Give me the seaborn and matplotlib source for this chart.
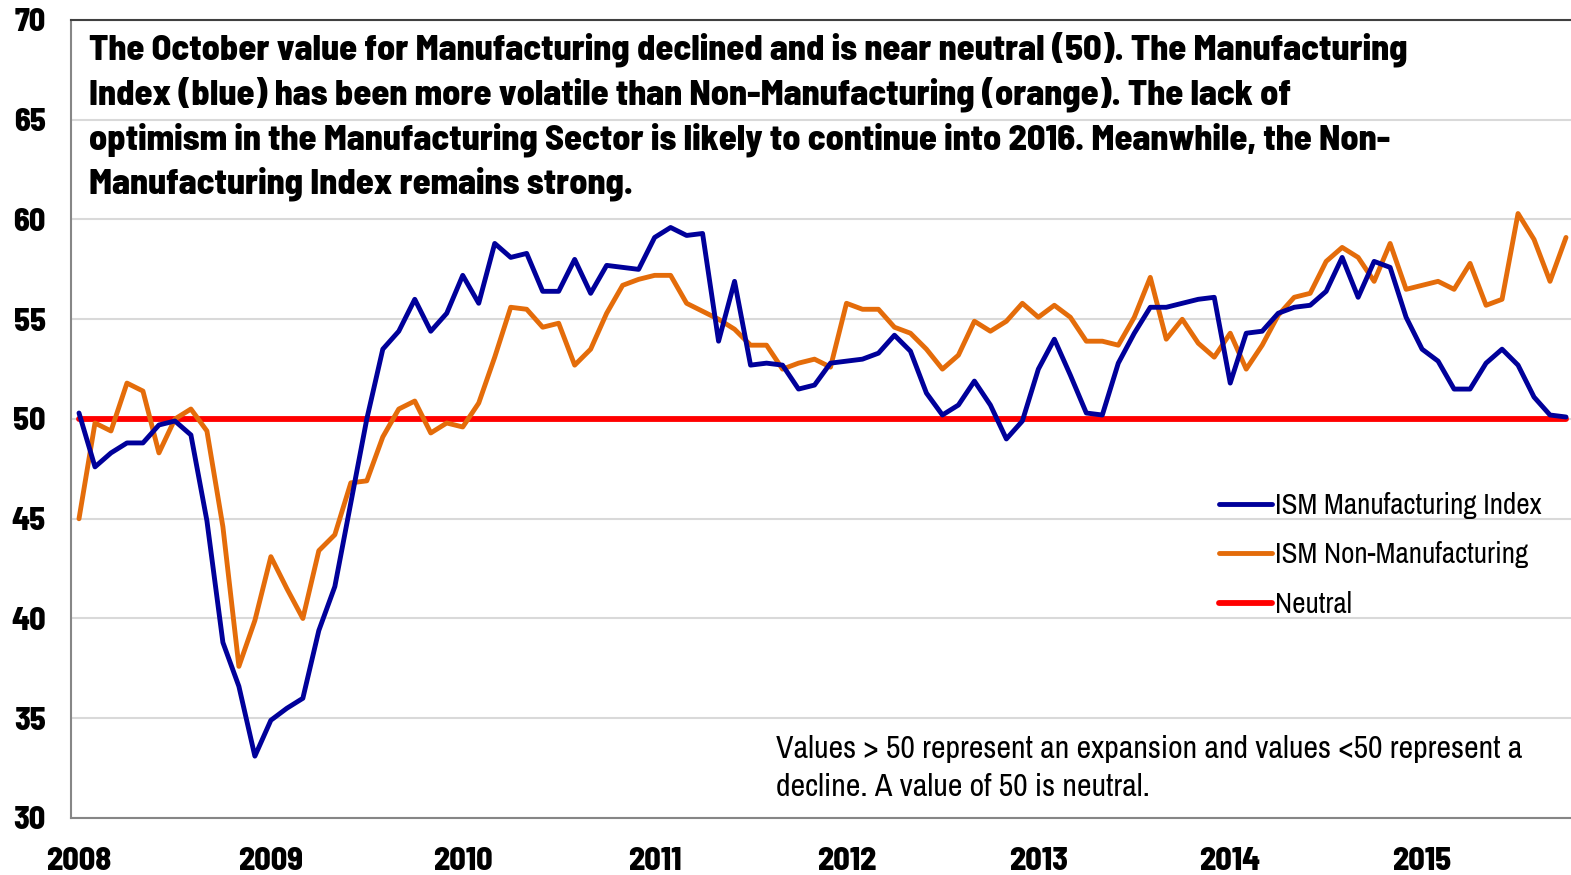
import numpy as np
import pandas as pd
import matplotlib
matplotlib.use('Agg')
import matplotlib.pyplot as plt
import seaborn as sns

# monthly readings, Jan 2008 - Oct 2015
months = pd.date_range('2008-01-01', '2015-10-01', freq='MS')

manufacturing = [
    50.3, 47.6, 48.3, 48.8, 48.8, 49.7, 49.9, 49.2, 44.9, 38.8, 36.6, 33.1,  # 2008
    34.9, 35.5, 36.0, 39.4, 41.6, 45.8, 50.0, 53.5, 54.4, 56.0, 54.4, 55.3,  # 2009
    57.2, 55.8, 58.8, 58.1, 58.3, 56.4, 56.4, 58.0, 56.3, 57.7, 57.6, 57.5,  # 2010
    59.1, 59.6, 59.2, 59.3, 53.9, 56.9, 52.7, 52.8, 52.7, 51.5, 51.7, 52.8,  # 2011
    52.9, 53.0, 53.3, 54.2, 53.4, 51.3, 50.2, 50.7, 51.9, 50.7, 49.0, 49.9,  # 2012
    52.5, 54.0, 52.2, 50.3, 50.2, 52.8, 54.3, 55.6, 55.6, 55.8, 56.0, 56.1,  # 2013
    51.8, 54.3, 54.4, 55.3, 55.6, 55.7, 56.4, 58.1, 56.1, 57.9, 57.6, 55.1,  # 2014
    53.5, 52.9, 51.5, 51.5, 52.8, 53.5, 52.7, 51.1, 50.2, 50.1,              # 2015
]

non_manufacturing = [
    45.0, 49.8, 49.4, 51.8, 51.4, 48.3, 50.0, 50.5, 49.4, 44.6, 37.6, 39.9,  # 2008
    43.1, 41.5, 40.0, 43.4, 44.2, 46.8, 46.9, 49.1, 50.5, 50.9, 49.3, 49.8,  # 2009
    49.6, 50.8, 53.1, 55.6, 55.5, 54.6, 54.8, 52.7, 53.5, 55.3, 56.7, 57.0,  # 2010
    57.2, 57.2, 55.8, 55.4, 55.0, 54.5, 53.7, 53.7, 52.5, 52.8, 53.0, 52.6,  # 2011
    55.8, 55.5, 55.5, 54.6, 54.3, 53.5, 52.5, 53.2, 54.9, 54.4, 54.9, 55.8,  # 2012
    55.1, 55.7, 55.1, 53.9, 53.9, 53.7, 55.1, 57.1, 54.0, 55.0, 53.8, 53.1,  # 2013
    54.3, 52.5, 53.7, 55.2, 56.1, 56.3, 57.9, 58.6, 58.1, 56.9, 58.8, 56.5,  # 2014
    56.7, 56.9, 56.5, 57.8, 55.7, 56.0, 60.3, 59.0, 56.9, 59.1,              # 2015
]

neutral = [50] * len(months)

year_labels = ['2008', '2009', '2010', '2011', '2012', '2013', '2014', '2015']
y_ticks = [30, 35, 40, 45, 50, 55, 60, 65, 70]

title_text = ("The October value for Manufacturing declined and is near neutral (50). The Manufacturing\n"
              "Index (blue) has been more volatile than Non-Manufacturing (orange). The lack of\n"
              "optimism in the Manufacturing Sector is likely to continue into 2016. Meanwhile, the Non-\n"
              "Manufacturing Index remains strong.")
note_text = ("Values > 50 represent an expansion and values <50 represent a\n"
             "decline. A value of 50 is neutral.")

df = pd.DataFrame({'pos': np.arange(len(months)),
                   'ISM Manufacturing Index': manufacturing,
                   'ISM Non-Manufacturing': non_manufacturing,
                   'Neutral': neutral})

sns.set_style('white')
BOLD = ['Barlow Semi Condensed', 'DejaVu Sans']
REG = ['Archivo Narrow', 'DejaVu Sans']
plt.rcParams['font.family'] = REG
plt.rcParams['text.color'] = 'black'

W, H = 1571, 875
fig = plt.figure(figsize=(W / 100, H / 100), dpi=100)
ax = fig.add_axes([71 / W, 57 / H, (W - 71) / W, 798 / H])

colors = {'ISM Manufacturing Index': '#00009A',
          'ISM Non-Manufacturing': '#E46C0A',
          'Neutral': '#FF0000'}
widths = {'ISM Manufacturing Index': 3.5, 'ISM Non-Manufacturing': 3.5, 'Neutral': 4.2}
for col in ['Neutral', 'ISM Non-Manufacturing', 'ISM Manufacturing Index']:
    sns.lineplot(data=df, x='pos', y=col, color=colors[col], linewidth=widths[col],
                 label=col, ax=ax, solid_capstyle='round', zorder=3)

ax.set_xlim(-0.5, (W - 78) / 16)
ax.set_ylim(30, 70)
ax.set_yticks(y_ticks)
ax.set_yticklabels([str(v) for v in y_ticks], fontsize=23, fontweight=800, family=BOLD)
ax.yaxis.grid(True, color='#D9D9D9', linewidth=1.5)
ax.set_axisbelow(True)

# quarter boundary ticks, year labels under January
ax.set_xticks(np.arange(-0.5, len(months), 3))
ax.set_xticklabels([])
ax.set_xticks(np.arange(0, len(months), 12), minor=True)
ax.set_xticklabels(year_labels, minor=True, fontsize=23, fontweight=800, family=BOLD)
ax.tick_params(axis='x', which='major', direction='out', length=7, width=1.3, color='#868686')
ax.tick_params(axis='x', which='minor', length=0, pad=21, labelcolor='black')
ax.tick_params(axis='y', direction='out', length=7, width=1.3, color='#868686', pad=11, labelcolor='black')
ax.set_xlabel('')
ax.set_ylabel('')

for s in ['left', 'bottom']:
    ax.spines[s].set_color('#868686')
    ax.spines[s].set_linewidth(1.5)
ax.spines['top'].set_color('#404040')
ax.spines['top'].set_linewidth(1.5)
ax.spines['right'].set_visible(False)

handles, labels = ax.get_legend_handles_labels()
order = [labels.index(l) for l in ['ISM Manufacturing Index', 'ISM Non-Manufacturing', 'Neutral']]
ax.legend([handles[i] for i in order], [labels[i] for i in order],
          loc='upper left', bbox_to_anchor=(1219 / W, 1 - 492 / H), bbox_transform=fig.transFigure,
          frameon=False, fontsize=21, handlelength=1.8, handletextpad=0.12,
          labelspacing=0.77, borderpad=0, borderaxespad=0)

fig.text(89 / W, 1 - 116 / H, title_text, fontsize=26, fontweight=800, family=BOLD,
         va='center', ha='left', linespacing=1.36)
fig.text(776 / W, 1 - 768 / H, note_text, fontsize=23, va='center', ha='left', linespacing=1.45)

fig.savefig('out.png', dpi=100)
